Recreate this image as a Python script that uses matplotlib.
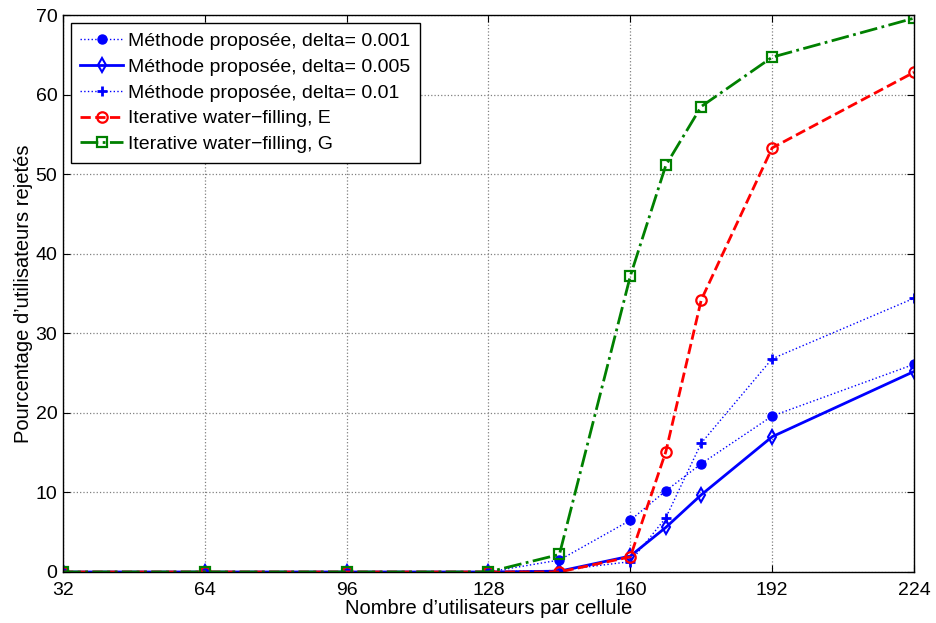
import numpy as np
import matplotlib.pyplot as plt

plt.rcParams['font.family'] = ['Liberation Sans', 'DejaVu Sans']

# nombre d'utilisateurs par cellule
users = [32, 64, 96, 128, 144, 160, 168, 176, 192, 224]

# pourcentage d'utilisateurs rejetes
prop_001 = [0, 0, 0, 0, 1.5, 6.5, 10.2, 13.6, 19.6, 26.1]
prop_005 = [0, 0, 0, 0, 0.1, 2.0, 5.6, 9.7, 17.0, 25.2]
prop_01 = [0, 0, 0, 0, 0.2, 1.3, 6.8, 16.2, 26.8, 34.4]
iwf_e = [0, 0, 0, 0, 0, 1.9, 15.1, 34.2, 53.3, 62.8]
iwf_g = [0, 0, 0, 0, 2.2, 37.2, 51.1, 58.5, 64.7, 69.6]

fig = plt.figure(figsize=(9.36, 6.23), dpi=100)
ax = fig.add_axes([0.0673, 0.0819, 0.9092, 0.894])

ax.plot(users, prop_001, ':', color='blue', lw=1, marker='o', ms=6.5,
        label='Méthode proposée, delta= 0.001')
ax.plot(users, prop_005, '-', color='blue', lw=2, marker='d', ms=7.5,
        mfc='none', mew=1.5, label='Méthode proposée, delta= 0.005')
ax.plot(users, prop_01, ':', color='blue', lw=1, marker='+', ms=7.5,
        mew=2, label='Méthode proposée, delta= 0.01')
ax.plot(users, iwf_e, '--', color='red', lw=2, marker='o', ms=7.5,
        mfc='none', mew=1.6, label='Iterative water\u2212filling, E')
ax.plot(users, iwf_g, '-.', color='green', lw=2, marker='s', ms=6.5,
        mfc='none', mew=1.6, label='Iterative water\u2212filling, G')

ax.set_xlim(32, 224)
ax.set_ylim(0, 70)
ax.set_xticks([32, 64, 96, 128, 160, 192, 224])
ax.set_yticks(np.arange(0, 71, 10))
ax.tick_params(direction='in', top=True, right=True, labelsize=14, length=5)
ax.tick_params(axis='x', pad=7)
ax.tick_params(axis='y', pad=4)
ax.grid(True, linestyle=':', color='gray', lw=0.9)
for s in ax.spines.values():
    s.set_linewidth(1)

ax.set_xlabel("Nombre d\u2019utilisateurs par cellule", fontsize=14.5, labelpad=0)
ax.set_ylabel("Pourcentage d\u2019utilisateurs rejetés", fontsize=14.5, labelpad=2)

leg = ax.legend(loc='upper left', fontsize=14, fancybox=False, framealpha=1,
                edgecolor='black', borderaxespad=0.4, handlelength=2.2,
                labelspacing=0.42, borderpad=0.5, handletextpad=0.25)
leg.get_frame().set_linewidth(1)

fig.savefig('out.png', dpi=100)
